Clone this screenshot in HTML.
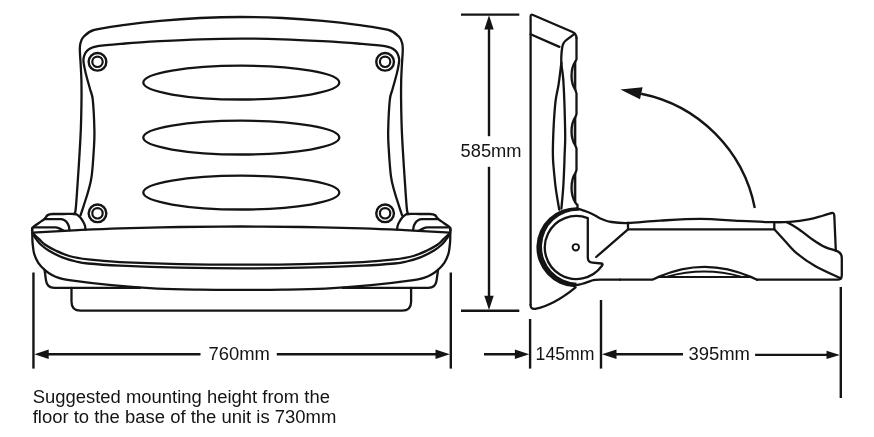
<!DOCTYPE html>
<html><head><meta charset="utf-8"><title>Shower seat dimensions</title>
<style>
html,body{margin:0;padding:0;background:#fff;}
svg{display:block;will-change:transform;}
text{font-family:"Liberation Sans",sans-serif;fill:#141414;}
</style></head>
<body>
<svg width="874" height="437" viewBox="0 0 874 437">
<rect width="874" height="437" fill="#ffffff"/>
<path d="M73.80 214.00 C74.10 213.33 74.98 214.83 75.60 210.00 C76.22 205.17 76.88 193.75 77.50 185.00 C78.12 176.25 78.75 166.67 79.30 157.50 C79.85 148.33 80.43 139.58 80.80 130.00 C81.17 120.42 81.40 108.33 81.50 100.00 C81.60 91.67 81.53 85.83 81.40 80.00 C81.27 74.17 80.95 69.67 80.70 65.00 C80.45 60.33 79.98 55.42 79.90 52.00 C79.82 48.58 79.65 46.97 80.20 44.50 C80.75 42.03 80.85 39.63 83.20 37.20 C85.55 34.77 87.33 31.97 94.30 29.90 C101.27 27.83 114.05 26.32 125.00 24.80 C135.95 23.28 147.50 21.93 160.00 20.80 C172.50 19.67 186.45 18.63 200.00 18.00 C213.55 17.37 227.53 17.00 241.30 17.00 C255.07 17.00 269.05 17.37 282.60 18.00 C296.15 18.63 310.10 19.67 322.60 20.80 C335.10 21.93 346.65 23.28 357.60 24.80 C368.55 26.32 381.33 27.83 388.30 29.90 C395.27 31.97 397.05 34.77 399.40 37.20 C401.75 39.63 401.85 42.03 402.40 44.50 C402.95 46.97 402.78 48.58 402.70 52.00 C402.62 55.42 402.15 60.33 401.90 65.00 C401.65 69.67 401.33 74.17 401.20 80.00 C401.07 85.83 401.00 91.67 401.10 100.00 C401.20 108.33 401.43 120.42 401.80 130.00 C402.17 139.58 402.75 148.33 403.30 157.50 C403.85 166.67 404.48 176.25 405.10 185.00 C405.72 193.75 406.38 205.17 407.00 210.00 C407.62 214.83 408.50 213.33 408.80 214.00" fill="none" stroke="#141414" stroke-width="2.3" stroke-linecap="round" stroke-linejoin="round" />
<path d="M80.60 215.20 C81.23 213.25 83.12 207.53 84.40 203.50 C85.68 199.47 87.08 195.62 88.30 191.00 C89.52 186.38 90.77 182.92 91.70 175.80 C92.63 168.68 93.45 155.93 93.90 148.30 C94.35 140.67 94.58 138.05 94.40 130.00 C94.22 121.95 93.48 106.67 92.80 100.00 C92.12 93.33 91.18 93.33 90.30 90.00 C89.42 86.67 88.40 83.40 87.50 80.00 C86.60 76.60 85.57 73.10 84.90 69.60 C84.23 66.10 83.07 62.20 83.50 59.00 C83.93 55.80 85.12 52.53 87.50 50.40 C89.88 48.27 91.55 47.35 97.80 46.20 C104.05 45.05 114.63 44.33 125.00 43.50 C135.37 42.67 147.50 41.90 160.00 41.20 C172.50 40.50 186.45 39.73 200.00 39.30 C213.55 38.87 227.53 38.60 241.30 38.60 C255.07 38.60 269.05 38.87 282.60 39.30 C296.15 39.73 310.10 40.50 322.60 41.20 C335.10 41.90 347.23 42.67 357.60 43.50 C367.97 44.33 378.55 45.05 384.80 46.20 C391.05 47.35 392.72 48.27 395.10 50.40 C397.48 52.53 398.67 55.80 399.10 59.00 C399.53 62.20 398.37 66.10 397.70 69.60 C397.03 73.10 396.00 76.60 395.10 80.00 C394.20 83.40 393.18 86.67 392.30 90.00 C391.42 93.33 390.48 93.33 389.80 100.00 C389.12 106.67 388.38 121.95 388.20 130.00 C388.02 138.05 388.25 140.67 388.70 148.30 C389.15 155.93 389.97 168.68 390.90 175.80 C391.83 182.92 393.08 186.38 394.30 191.00 C395.52 195.62 396.92 199.47 398.20 203.50 C399.48 207.53 401.37 213.25 402.00 215.20" fill="none" stroke="#141414" stroke-width="2.3" stroke-linecap="round" stroke-linejoin="round" />
<ellipse cx="241.3" cy="82.6" rx="98" ry="16.9" fill="none" stroke="#141414" stroke-width="2.3"/>
<ellipse cx="241.3" cy="137.6" rx="98" ry="16.9" fill="none" stroke="#141414" stroke-width="2.3"/>
<ellipse cx="241.3" cy="192.6" rx="98" ry="16.9" fill="none" stroke="#141414" stroke-width="2.3"/>
<circle cx="97.5" cy="61.8" r="8.85" fill="none" stroke="#141414" stroke-width="2.4"/>
<circle cx="97.5" cy="61.8" r="5.2" fill="none" stroke="#141414" stroke-width="2.2"/>
<circle cx="385.1" cy="61.8" r="8.85" fill="none" stroke="#141414" stroke-width="2.4"/>
<circle cx="385.1" cy="61.8" r="5.2" fill="none" stroke="#141414" stroke-width="2.2"/>
<circle cx="97.5" cy="213.3" r="8.85" fill="none" stroke="#141414" stroke-width="2.4"/>
<circle cx="97.5" cy="213.3" r="5.2" fill="none" stroke="#141414" stroke-width="2.2"/>
<circle cx="385.1" cy="213.3" r="8.85" fill="none" stroke="#141414" stroke-width="2.4"/>
<circle cx="385.1" cy="213.3" r="5.2" fill="none" stroke="#141414" stroke-width="2.2"/>
<path d="M32.00 230.50 C32.07 230.12 32.13 228.83 32.40 228.20 C32.67 227.57 32.58 227.53 33.60 226.70 C34.62 225.87 36.77 224.42 38.50 223.20 C40.23 221.98 42.82 220.35 44.00 219.40 C45.18 218.45 45.07 218.15 45.60 217.50 C46.13 216.85 46.55 216.03 47.20 215.50 C47.85 214.97 48.57 214.55 49.50 214.30 C50.43 214.05 50.55 214.05 52.80 214.00 C55.05 213.95 59.40 214.00 63.00 214.00 C66.60 214.00 71.98 213.83 74.40 214.00 C76.82 214.17 76.53 214.45 77.50 215.00 C78.47 215.55 79.18 216.05 80.20 217.30 C81.22 218.55 82.80 221.05 83.60 222.50 C84.40 223.95 84.68 224.83 85.00 226.00 C85.32 227.17 85.42 228.92 85.50 229.50" fill="none" stroke="#141414" stroke-width="2.3" stroke-linecap="round" stroke-linejoin="round" />
<path d="M450.60 230.50 C450.53 230.12 450.47 228.83 450.20 228.20 C449.93 227.57 450.02 227.53 449.00 226.70 C447.98 225.87 445.83 224.42 444.10 223.20 C442.37 221.98 439.78 220.35 438.60 219.40 C437.42 218.45 437.53 218.15 437.00 217.50 C436.47 216.85 436.05 216.03 435.40 215.50 C434.75 214.97 434.03 214.55 433.10 214.30 C432.17 214.05 432.05 214.05 429.80 214.00 C427.55 213.95 423.20 214.00 419.60 214.00 C416.00 214.00 410.62 213.83 408.20 214.00 C405.78 214.17 406.07 214.45 405.10 215.00 C404.13 215.55 403.42 216.05 402.40 217.30 C401.38 218.55 399.80 221.05 399.00 222.50 C398.20 223.95 397.92 224.83 397.60 226.00 C397.28 227.17 397.18 228.92 397.10 229.50" fill="none" stroke="#141414" stroke-width="2.3" stroke-linecap="round" stroke-linejoin="round" />
<path d="M44.30 219.20 C45.58 219.18 49.22 219.12 52.00 219.10 C54.78 219.08 59.00 218.95 61.00 219.10 C63.00 219.25 63.10 219.55 64.00 220.00 C64.90 220.45 65.63 220.88 66.40 221.80 C67.17 222.72 68.08 224.13 68.60 225.50 C69.12 226.87 69.35 229.25 69.50 230.00" fill="none" stroke="#141414" stroke-width="2.3" stroke-linecap="round" stroke-linejoin="round" />
<path d="M438.30 219.20 C437.02 219.18 433.38 219.12 430.60 219.10 C427.82 219.08 423.60 218.95 421.60 219.10 C419.60 219.25 419.50 219.55 418.60 220.00 C417.70 220.45 416.97 220.88 416.20 221.80 C415.43 222.72 414.52 224.13 414.00 225.50 C413.48 226.87 413.25 229.25 413.10 230.00" fill="none" stroke="#141414" stroke-width="2.3" stroke-linecap="round" stroke-linejoin="round" />
<path d="M34.00 227.40 C35.83 227.40 41.47 227.40 45.00 227.40 C48.53 227.40 52.73 227.20 55.20 227.40 C57.67 227.60 58.40 228.07 59.80 228.60 C61.20 229.13 62.97 230.27 63.60 230.60" fill="none" stroke="#141414" stroke-width="2.3" stroke-linecap="round" stroke-linejoin="round" />
<path d="M448.60 227.40 C446.77 227.40 441.13 227.40 437.60 227.40 C434.07 227.40 429.87 227.20 427.40 227.40 C424.93 227.60 424.20 228.07 422.80 228.60 C421.40 229.13 419.63 230.27 419.00 230.60" fill="none" stroke="#141414" stroke-width="2.3" stroke-linecap="round" stroke-linejoin="round" />
<path d="M32.30 232.70 C39.92 232.27 63.38 230.83 78.00 230.10 C92.62 229.37 103.00 228.82 120.00 228.30 C137.00 227.78 159.78 227.30 180.00 227.00 C200.22 226.70 220.87 226.50 241.30 226.50 C261.73 226.50 282.38 226.70 302.60 227.00 C322.82 227.30 345.60 227.78 362.60 228.30 C379.60 228.82 389.98 229.37 404.60 230.10 C419.22 230.83 442.68 232.27 450.30 232.70" fill="none" stroke="#141414" stroke-width="2.3" stroke-linecap="round" stroke-linejoin="round" />
<path d="M32.30 228.00 C32.30 228.77 32.28 230.60 32.30 232.60 C32.32 234.60 32.32 237.93 32.40 240.00 C32.48 242.07 32.50 242.68 32.80 245.00 C33.10 247.32 33.28 250.93 34.20 253.90 C35.12 256.87 36.47 260.05 38.30 262.80 C40.13 265.55 42.92 268.37 45.20 270.40 C47.48 272.43 49.87 273.80 52.00 275.00 C54.13 276.20 55.13 276.73 58.00 277.60 C60.87 278.47 60.28 278.93 69.20 280.20 C78.12 281.47 96.82 283.80 111.50 285.20 C126.18 286.60 142.55 287.85 157.30 288.60 C172.05 289.35 186.00 289.48 200.00 289.70 C214.00 289.92 227.53 289.90 241.30 289.90 C255.07 289.90 268.60 289.92 282.60 289.70 C296.60 289.48 310.55 289.35 325.30 288.60 C340.05 287.85 356.42 286.60 371.10 285.20 C385.78 283.80 404.48 281.47 413.40 280.20 C422.32 278.93 421.73 278.47 424.60 277.60 C427.47 276.73 428.47 276.20 430.60 275.00 C432.73 273.80 435.12 272.43 437.40 270.40 C439.68 268.37 442.47 265.55 444.30 262.80 C446.13 260.05 447.48 256.87 448.40 253.90 C449.32 250.93 449.50 247.32 449.80 245.00 C450.10 242.68 450.12 242.07 450.20 240.00 C450.28 237.93 450.28 234.60 450.30 232.60 C450.32 230.60 450.30 228.77 450.30 228.00" fill="none" stroke="#141414" stroke-width="2.3" stroke-linecap="round" stroke-linejoin="round" />
<path d="M33.00 233.30 C34.07 234.32 37.37 237.48 39.40 239.40 C41.43 241.32 42.52 242.95 45.20 244.80 C47.88 246.65 51.50 248.63 55.50 250.50 C59.50 252.37 63.78 254.52 69.20 256.00 C74.62 257.48 79.53 258.38 88.00 259.40 C96.47 260.42 104.67 261.32 120.00 262.10 C135.33 262.88 159.78 263.67 180.00 264.10 C200.22 264.53 220.87 264.70 241.30 264.70 C261.73 264.70 282.38 264.53 302.60 264.10 C322.82 263.67 347.27 262.88 362.60 262.10 C377.93 261.32 386.13 260.42 394.60 259.40 C403.07 258.38 407.98 257.48 413.40 256.00 C418.82 254.52 423.10 252.37 427.10 250.50 C431.10 248.63 434.72 246.65 437.40 244.80 C440.08 242.95 441.17 241.32 443.20 239.40 C445.23 237.48 448.53 234.32 449.60 233.30" fill="none" stroke="#141414" stroke-width="2.3" stroke-linecap="round" stroke-linejoin="round" />
<path d="M32.80 234.00 C33.43 234.93 35.18 237.77 36.60 239.60 C38.02 241.43 39.30 243.18 41.30 245.00 C43.30 246.82 45.10 248.43 48.60 250.50 C52.10 252.57 57.73 255.57 62.30 257.40 C66.87 259.23 71.72 260.48 76.00 261.50 C80.28 262.52 80.67 262.82 88.00 263.50 C95.33 264.18 104.67 264.90 120.00 265.60 C135.33 266.30 159.78 267.23 180.00 267.70 C200.22 268.17 220.87 268.40 241.30 268.40 C261.73 268.40 282.38 268.17 302.60 267.70 C322.82 267.23 347.27 266.30 362.60 265.60 C377.93 264.90 387.27 264.18 394.60 263.50 C401.93 262.82 402.32 262.52 406.60 261.50 C410.88 260.48 415.73 259.23 420.30 257.40 C424.87 255.57 430.50 252.57 434.00 250.50 C437.50 248.43 439.30 246.82 441.30 245.00 C443.30 243.18 444.58 241.43 446.00 239.60 C447.42 237.77 449.17 234.93 449.80 234.00" fill="none" stroke="#141414" stroke-width="2.3" stroke-linecap="round" stroke-linejoin="round" />
<path d="M44.6 270 L46.0 280.4 Q47 287.9 54.3 287.9 L140 287.9" fill="none" stroke="#141414" stroke-width="2.3" stroke-linecap="round" stroke-linejoin="round" />
<path d="M438.00 270 L436.60 280.4 Q435.60 287.9 428.30 287.9 L342.60 287.9" fill="none" stroke="#141414" stroke-width="2.3" stroke-linecap="round" stroke-linejoin="round" />
<path d="M71.5 287.9 L71.5 301.7 Q71.5 310.7 80.5 310.7 L402.10 310.7 Q411.10 310.7 411.10 301.7 L411.10 287.9" fill="none" stroke="#141414" stroke-width="2.3" stroke-linecap="round" stroke-linejoin="round" />
<line x1="33.45" y1="272.50" x2="33.45" y2="368.60" stroke="#141414" stroke-width="2.4"/>
<line x1="450.80" y1="272.50" x2="450.80" y2="368.60" stroke="#141414" stroke-width="2.4"/>
<line x1="40.00" y1="354.20" x2="200.50" y2="354.20" stroke="#141414" stroke-width="2.4"/>
<line x1="276.80" y1="354.20" x2="445.00" y2="354.20" stroke="#141414" stroke-width="2.4"/>
<polygon points="34.40,354.20 48.70,349.50 48.70,358.90" fill="#141414"/>
<polygon points="449.80,354.20 435.50,358.90 435.50,349.50" fill="#141414"/>
<line x1="461.00" y1="14.65" x2="519.30" y2="14.65" stroke="#141414" stroke-width="2.4"/>
<line x1="461.00" y1="310.80" x2="519.30" y2="310.80" stroke="#141414" stroke-width="2.4"/>
<line x1="489.00" y1="20.00" x2="489.00" y2="136.20" stroke="#141414" stroke-width="2.4"/>
<line x1="489.00" y1="166.80" x2="489.00" y2="305.00" stroke="#141414" stroke-width="2.4"/>
<polygon points="489.00,15.30 493.70,29.60 484.30,29.60" fill="#141414"/>
<polygon points="489.00,310.00 484.30,295.70 493.70,295.70" fill="#141414"/>
<line x1="530.10" y1="319.00" x2="530.10" y2="368.60" stroke="#141414" stroke-width="2.4"/>
<line x1="601.00" y1="300.00" x2="601.00" y2="368.60" stroke="#141414" stroke-width="2.4"/>
<line x1="840.80" y1="287.00" x2="840.80" y2="398.00" stroke="#141414" stroke-width="2.4"/>
<line x1="484.00" y1="354.30" x2="524.00" y2="354.30" stroke="#141414" stroke-width="2.4"/>
<polygon points="529.20,354.30 514.90,359.00 514.90,349.60" fill="#141414"/>
<line x1="608.00" y1="354.20" x2="683.00" y2="354.20" stroke="#141414" stroke-width="2.4"/>
<polygon points="601.90,354.20 616.50,349.50 616.50,358.90" fill="#141414"/>
<line x1="755.10" y1="354.90" x2="835.00" y2="354.90" stroke="#141414" stroke-width="2.4"/>
<polygon points="839.90,354.90 826.50,359.10 826.50,350.70" fill="#141414"/>
<path d="M530.6 304.5 L530.6 16.5 Q530.6 14 533 15 L572 31.8 Q576.5 33.8 576.5 38" fill="none" stroke="#141414" stroke-width="2.3" stroke-linecap="round" stroke-linejoin="round" />
<path d="M530.5 304.8 Q530.6 309.4 535 308.8 C549 306.2 563 297.6 575.6 287.3" fill="none" stroke="#141414" stroke-width="2.3" stroke-linecap="round" stroke-linejoin="round" />
<path d="M530.60 34.30 L559.40 46.90" fill="none" stroke="#141414" stroke-width="2.3" stroke-linecap="round" stroke-linejoin="round" />
<path d="M574.70 33.80 C573.95 34.37 571.68 36.08 570.20 37.20 C568.72 38.32 566.93 39.47 565.80 40.50 C564.67 41.53 564.00 42.23 563.40 43.40 C562.80 44.57 562.55 45.25 562.20 47.50 C561.85 49.75 561.42 54.00 561.30 56.90 C561.18 59.80 561.18 61.28 561.50 64.90 C561.82 68.52 562.73 72.75 563.20 78.60 C563.67 84.45 564.02 93.10 564.30 100.00 C564.58 106.90 564.75 113.50 564.90 120.00 C565.05 126.50 565.25 133.17 565.20 139.00 C565.15 144.83 564.75 150.67 564.60 155.00 C564.45 159.33 564.53 159.52 564.30 165.00 C564.07 170.48 563.68 180.65 563.20 187.90 C562.72 195.15 561.70 205.07 561.40 208.50" fill="none" stroke="#141414" stroke-width="2.3" stroke-linecap="round" stroke-linejoin="round" />
<path d="M561.40 62.60 C560.93 66.22 559.55 78.07 558.60 84.30 C557.65 90.53 556.47 94.05 555.70 100.00 C554.93 105.95 554.45 112.85 554.00 120.00 C553.55 127.15 553.18 137.07 553.00 142.90 C552.82 148.73 552.83 151.32 552.90 155.00 C552.97 158.68 552.93 159.52 553.40 165.00 C553.87 170.48 554.73 180.47 555.70 187.90 C556.67 195.33 558.62 205.98 559.20 209.60" fill="none" stroke="#141414" stroke-width="2.3" stroke-linecap="round" stroke-linejoin="round" />
<path d="M575.40 61.40 C570.21 69.12 570.21 82.28 575.40 90.00 Z" fill="#c4c4c4"/>
<line x1="575.20" y1="61.40" x2="575.20" y2="90.00" stroke="#141414" stroke-width="2.3"/>
<path d="M575.40 117.00 C570.21 124.72 570.21 137.88 575.40 145.60 Z" fill="#c4c4c4"/>
<line x1="575.20" y1="117.00" x2="575.20" y2="145.60" stroke="#141414" stroke-width="2.3"/>
<path d="M575.40 173.00 C570.21 180.99 570.21 194.61 575.40 202.60 Z" fill="#c4c4c4"/>
<line x1="575.20" y1="173.00" x2="575.20" y2="202.60" stroke="#141414" stroke-width="2.3"/>
<path d="M576.50 38L576.50 59.20 L575.40 61.40 C570.21 69.12 570.21 82.28 575.40 90.00 L576.50 93.50L576.50 114.20 L575.40 117.00 C570.21 124.72 570.21 137.88 575.40 145.60 L576.50 148.50L576.50 170.10 L575.40 173.00 C570.21 180.99 570.21 194.61 575.40 202.60 L576.50 204.20L577.5 204.8 L577.5 208" fill="none" stroke="#141414" stroke-width="2.3" stroke-linecap="round" stroke-linejoin="round" />
<path d="M577.80 207.32 A40.00 40.00 0 0 0 575.00 287.28 L576.74 282.68 A36.00 36.00 0 0 1 579.26 210.72 Z" fill="#141414"/>
<path d="M587.8 257.5 L587.8 218.19 L587.84 218.19 A31.50 31.50 0 1 0 601.78 266.02 Q603.6 263.9 601.4 263.5 L592.6 262.7 Q587.8 262.3 587.8 257.5" fill="none" stroke="#141414" stroke-width="2.3" stroke-linecap="round" stroke-linejoin="round" />
<circle cx="575.8" cy="247.3" r="3.2" fill="none" stroke="#141414" stroke-width="1.9"/>
<path d="M577.50 208.50 C579.20 209.08 584.78 210.83 587.70 212.00 C590.62 213.17 592.55 214.28 595.00 215.50 C597.45 216.72 599.65 218.22 602.40 219.30 C605.15 220.38 607.23 221.38 611.50 222.00 C615.77 222.62 619.92 223.23 628.00 223.00 C636.08 222.77 647.88 221.28 660.00 220.60 C672.12 219.92 687.37 218.85 700.70 218.90 C714.03 218.95 727.73 220.35 740.00 220.90 C752.27 221.45 765.97 222.05 774.30 222.20 C782.63 222.35 784.28 222.27 790.00 221.80 C795.72 221.33 803.27 220.37 808.60 219.40 C813.93 218.43 818.27 217.03 822.00 216.00 C825.73 214.97 829.50 213.67 831.00 213.20" fill="none" stroke="#141414" stroke-width="2.3" stroke-linecap="round" stroke-linejoin="round" />
<path d="M831.0 213.2 Q834.0 212.2 834.3 215.5 L835.8 250.5" fill="none" stroke="#141414" stroke-width="2.3" stroke-linecap="round" stroke-linejoin="round" />
<path d="M628.00 223.00 L628.00 229.30 L774.30 229.30 L774.30 222.20" fill="none" stroke="#141414" stroke-width="2.3" stroke-linecap="round" stroke-linejoin="round" />
<path d="M628.00 229.30 L596.20 257.00" fill="none" stroke="#141414" stroke-width="2.3" stroke-linecap="round" stroke-linejoin="round" />
<path d="M774.30 229.30 C776.08 231.25 781.18 236.93 785.00 241.00 C788.82 245.07 792.12 249.48 797.20 253.70 C802.28 257.92 808.23 262.18 815.50 266.30 C822.77 270.42 836.58 276.38 840.80 278.40" fill="none" stroke="#141414" stroke-width="2.3" stroke-linecap="round" stroke-linejoin="round" />
<path d="M786.90 222.20 C789.00 223.45 795.12 226.73 799.50 229.70 C803.88 232.67 809.02 237.13 813.20 240.00 C817.38 242.87 820.83 245.13 824.60 246.90 C828.37 248.67 833.93 249.98 835.80 250.60" fill="none" stroke="#141414" stroke-width="2.3" stroke-linecap="round" stroke-linejoin="round" />
<path d="M835.8 250.6 Q841.8 252.5 841.8 258 L841.8 275 Q841.8 279.7 837.5 279.7 L757 279.7" fill="none" stroke="#141414" stroke-width="2.3" stroke-linecap="round" stroke-linejoin="round" />
<path d="M574.00 285.60 C574.83 285.45 577.25 285.12 579.00 284.70 C580.75 284.28 582.83 283.60 584.50 283.10 C586.17 282.60 587.75 282.13 589.00 281.70 C590.25 281.27 591.00 280.80 592.00 280.50 C593.00 280.20 593.67 280.03 595.00 279.90 C596.33 279.77 595.83 279.73 600.00 279.70 C604.17 279.67 616.67 279.70 620.00 279.70" fill="none" stroke="#141414" stroke-width="2.3" stroke-linecap="round" stroke-linejoin="round" />
<path d="M620 279.7 L652.4 279.7 L658.6 276.9 Q704.5 256.7 750.8 276.9 L757 279.7" fill="none" stroke="#141414" stroke-width="2.3" stroke-linecap="round" stroke-linejoin="round" />
<path d="M667 276.6 Q704.5 266.4 741 276.6" fill="none" stroke="#141414" stroke-width="2.0" stroke-linecap="round" stroke-linejoin="round" />
<path d="M658.6 277.1 L750.8 277.1" fill="none" stroke="#141414" stroke-width="2.0" stroke-linecap="round" stroke-linejoin="round" />
<path d="M754.79 207.98 A145.00 145.00 0 0 0 641.16 93.76" fill="none" stroke="#141414" stroke-width="2.4" stroke-linecap="round" stroke-linejoin="round" style="stroke-linecap:butt"/>
<polygon points="620.4,89.5 642.6,87.2 640,99.2" fill="#141414"/>
<text x="208.50" y="360.20" font-size="17.5" textLength="61.40" lengthAdjust="spacingAndGlyphs">760mm</text>
<text x="460.60" y="156.80" font-size="17.5" textLength="61.00" lengthAdjust="spacingAndGlyphs">585mm</text>
<text x="535.60" y="360.20" font-size="17.5" textLength="59.00" lengthAdjust="spacingAndGlyphs">145mm</text>
<text x="688.40" y="360.20" font-size="17.5" textLength="61.50" lengthAdjust="spacingAndGlyphs">395mm</text>
<text x="32.70" y="402.80" font-size="17.5" textLength="297.30" lengthAdjust="spacingAndGlyphs">Suggested mounting height from the</text>
<text x="32.70" y="423.00" font-size="17.5" textLength="303.60" lengthAdjust="spacingAndGlyphs">floor to the base of the unit is 730mm</text>
</svg>
</body></html>
